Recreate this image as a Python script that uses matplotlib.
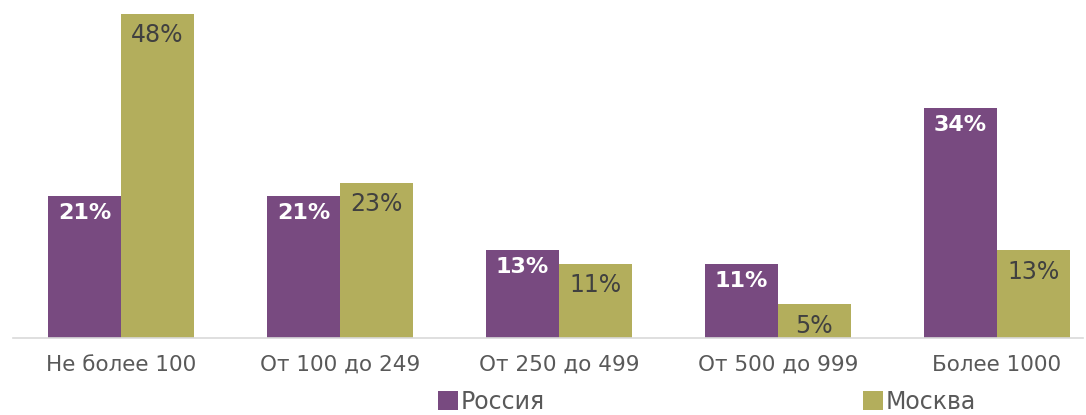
import matplotlib
matplotlib.use("Agg")
import matplotlib.pyplot as plt
import numpy as np

categories = ["Не более 100", "От 100 до 249", "От 250 до 499", "От 500 до 999", "Более 1000"]
russia = [21, 21, 13, 11, 34]
moscow = [48, 23, 11, 5, 13]
series_names = ["Россия", "Москва"]

c_ru = "#784A80"
c_mo = "#B3AE5C"

plt.rcParams['font.family'] = ['DejaVu Sans']
fig = plt.figure(figsize=(10.86, 4.15), dpi=100)
ax = fig.add_axes([13/1086, 77/415, 1070/1086, 338/415])

x = np.arange(len(categories))
w = 0.333
b1 = ax.bar(x - w/2, russia, w, color=c_ru, label=series_names[0])
b2 = ax.bar(x + w/2, moscow, w, color=c_mo, label=series_names[1])

for rect, v in zip(b1, russia):
    ax.annotate(f"{v}%", (rect.get_x() + rect.get_width()/2, v), xytext=(0, -5),
                textcoords="offset points", ha="center", va="top",
                color="white", fontsize=16, fontweight="bold")
for rect, v in zip(b2, moscow):
    ax.annotate(f"{v}%", (rect.get_x() + rect.get_width()/2, v), xytext=(0, -7),
                textcoords="offset points", ha="center", va="top",
                color="#404040", fontsize=17)

ax.set_xlim(-0.493, 4.393)
ax.set_ylim(0, 50)
ax.set_xticks(x)
ax.set_xticklabels(categories, fontsize=15.5, color="#595959")
ax.tick_params(axis="x", length=0, pad=12)
ax.set_yticks([])
for s in ["top", "right", "left"]:
    ax.spines[s].set_visible(False)
ax.spines["bottom"].set_color("#D9D9D9")
ax.spines["bottom"].set_linewidth(1.2)

fig.legend(handles=[b1, b2], labels=series_names, loc="center", bbox_to_anchor=(707/1086, 1 - 402/415),
           ncol=2, frameon=False, fontsize=17, handlelength=0.85, handleheight=0.85,
           handletextpad=0.1, columnspacing=13.5, labelcolor="#595959", borderpad=0)

fig.savefig("out.png", dpi=100)
